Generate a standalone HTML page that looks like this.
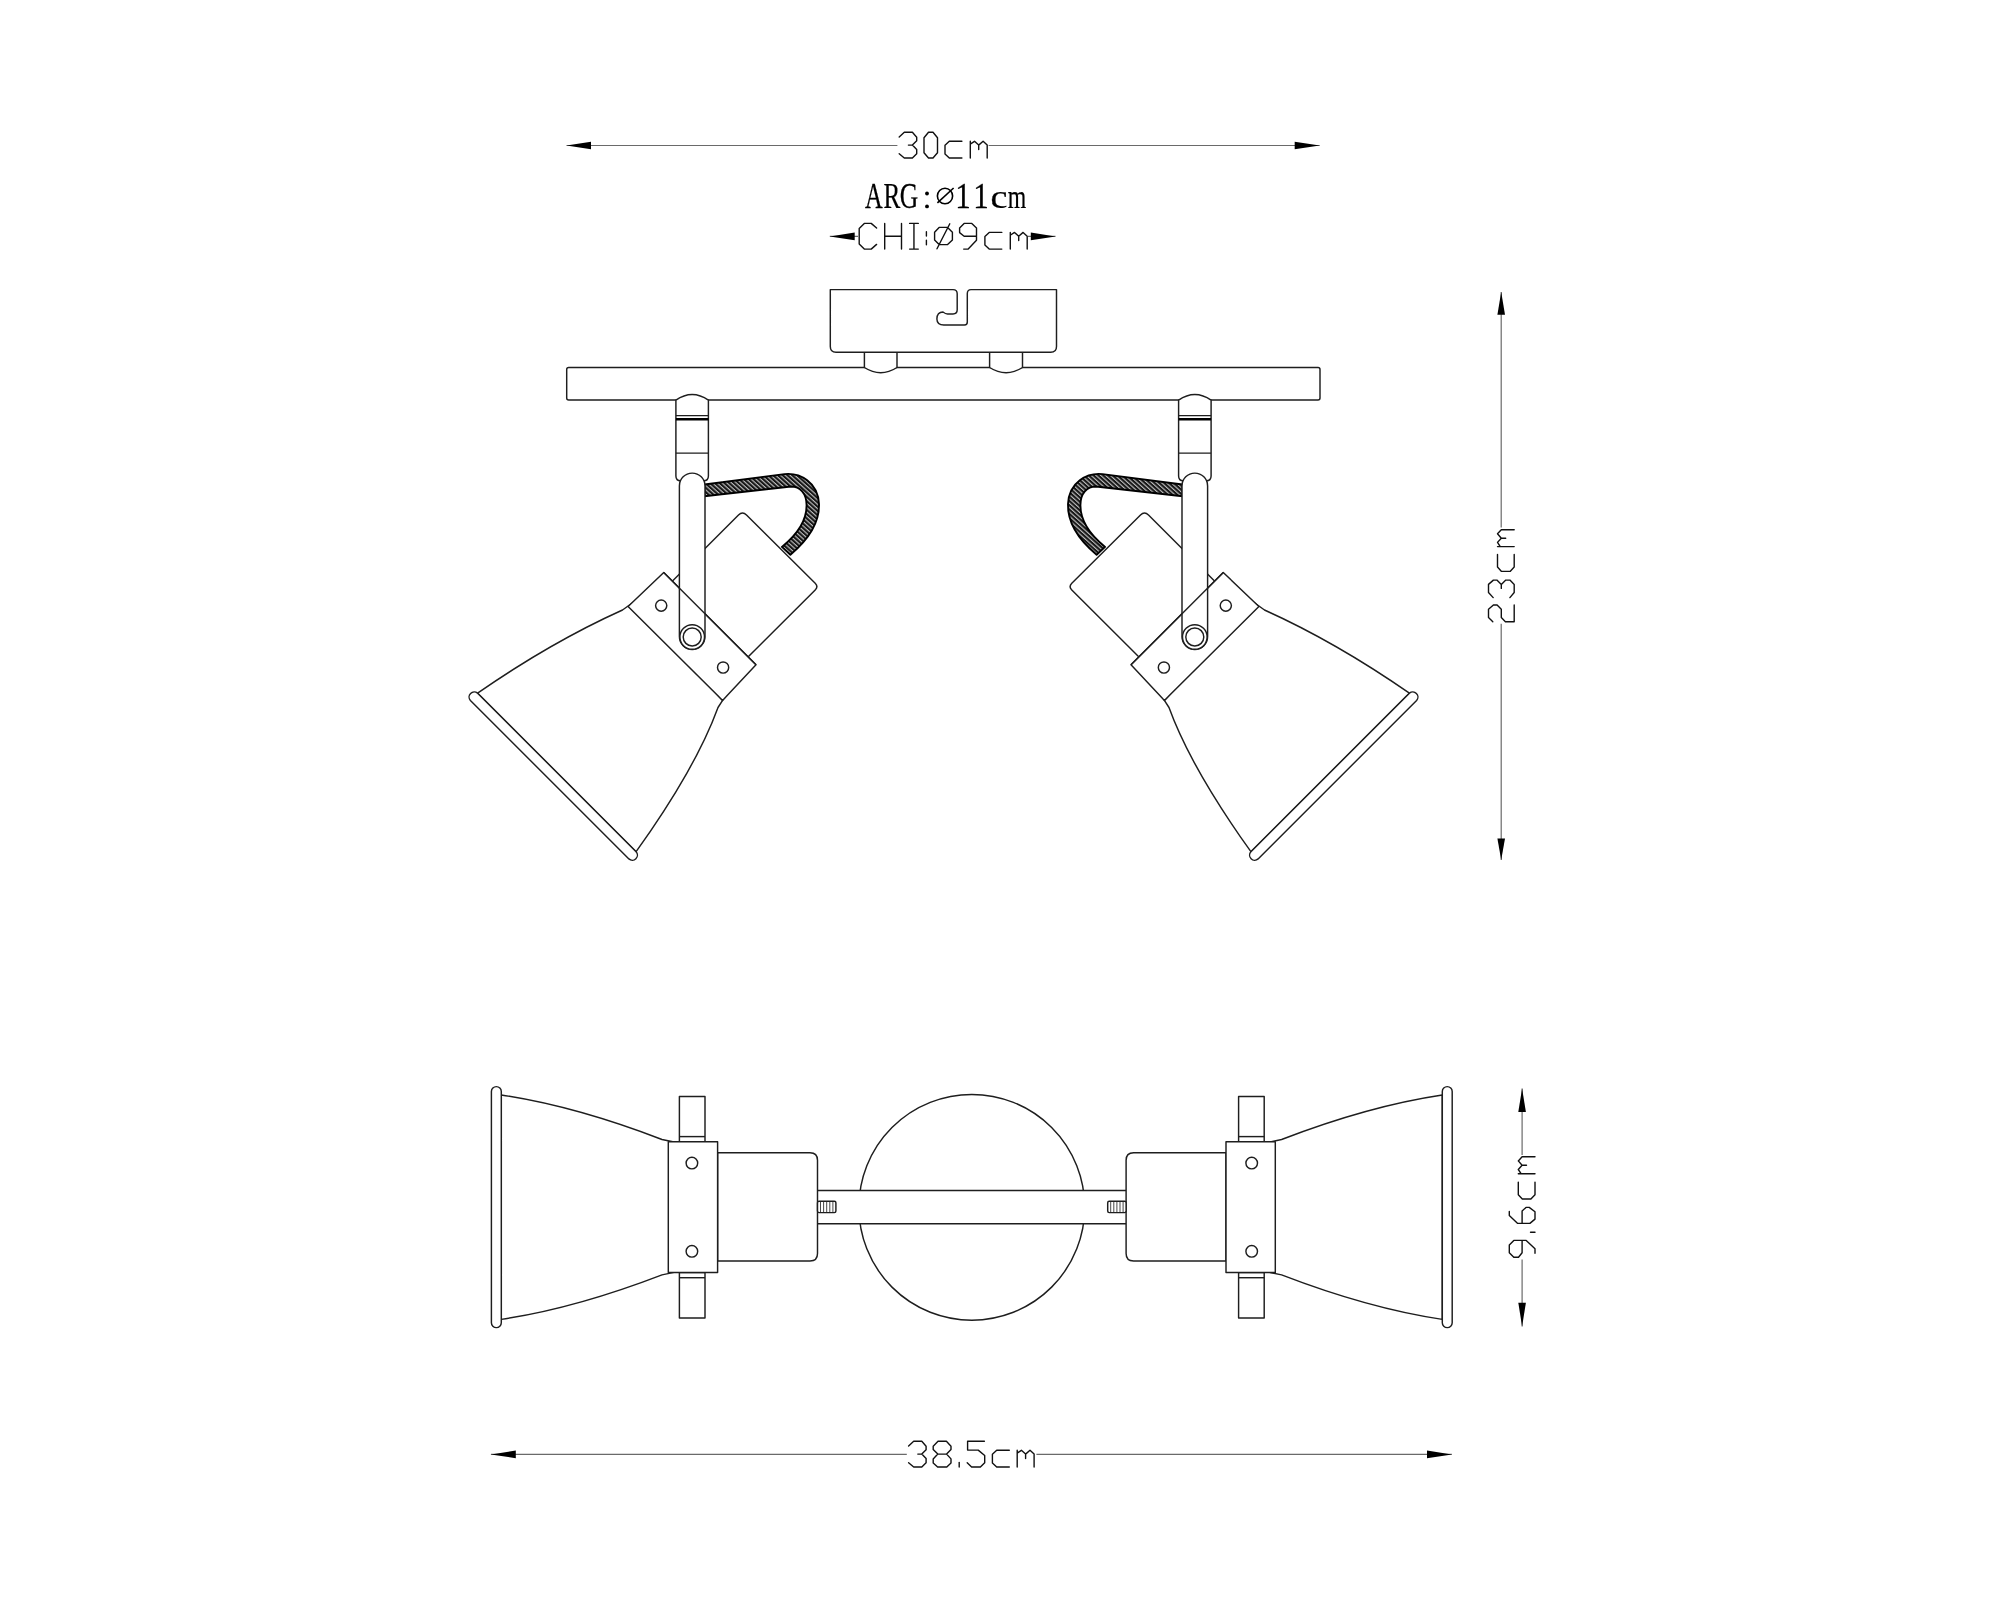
<!DOCTYPE html>
<html><head><meta charset="utf-8"><title>drawing</title>
<style>
html,body{margin:0;padding:0;background:#fff;overflow:hidden}
svg{display:block}
.o{fill:#fff;stroke:#1e1e1e;stroke-width:1.45;stroke-linejoin:round}
.dl{fill:none;stroke:#6a6a6a;stroke-width:1.2}
.th{fill:none;stroke:#333;stroke-width:0.9}
.cab{stroke:#000;stroke-width:1.9;stroke-linejoin:round}
.gl use{}
</style></head><body>
<svg width="2000" height="1600" viewBox="0 0 2000 1600">
<defs>
<pattern id="hatch" patternUnits="userSpaceOnUse" width="3.2" height="3.2" patternTransform="rotate(-48)">
<rect width="3.2" height="3.2" fill="#bcbcbc"/><rect x="0" y="0" width="2.05" height="3.2" fill="#161616"/>
</pattern>
<pattern id="hatch2" patternUnits="userSpaceOnUse" width="3.2" height="3.2" patternTransform="rotate(48)">
<rect width="3.2" height="3.2" fill="#bcbcbc"/><rect x="0" y="0" width="2.05" height="3.2" fill="#161616"/>
</pattern>
<path id="g0" d="M4.5,0 L9,0 L13.5,5.4 L13.5,20.4 L9,25.7 L4.5,25.7 L0,20.4 L0,5.4 Z"/>
<path id="g2" d="M0,4.3 L4.1,0 L12.4,0 L16.7,4.9 L16.7,8.6 L12.4,12.8 L4.1,12.8 L0,16.9 L0,25.7 L16.7,25.7"/>
<path id="g3" d="M0,4.7 L5.1,0 L13.2,0 L17.5,4.9 L17.5,8.4 L13.2,12.8 L9.2,12.8 M13.2,12.8 L17.5,17.3 L17.5,21.4 L13.2,25.7 L5.1,25.7 L0,21.4"/>
<path id="g5" d="M17.2,0 L0.4,0 L0.4,8.8 L11,8.8 L17.5,14.2 L17.5,21.4 L13.2,25.7 L4.4,25.7 L0,21.4"/>
<path id="g6" d="M12,0 L8,0 L0,8.4 L0,20.6 L4.3,25.7 L11.6,25.7 L16,19.9 L16,16.7 L12.4,12.8 L0,12.8"/>
<path id="g8" d="M4.8,0 L13.2,0 L17.8,4.9 L17.8,8.2 L13.4,12.8 L4.6,12.8 L0,8.2 L0,4.9 Z M4.6,12.8 L0,17.6 L0,21.8 L4.4,25.7 L13.6,25.7 L17.8,21.8 L17.8,17.6 L13.4,12.8"/>
<path id="g9" d="M4.1,25.7 L8.6,25.7 L16.9,16.9 L16.9,4.5 L12.2,0 L4.5,0 L0,4.5 L0,9.2 L4.5,12.8 L16.9,12.8"/>
<path id="gc" d="M16.9,9 L4.3,9 L0,13 L0,21.6 L4.3,25.7 L16.9,25.7"/>
<path id="gm" d="M0,25.7 L0,9 M0.3,11.6 L4.2,9 L8.4,12.8 L8.4,17.2 M8.4,12.8 L12.8,9 L16.9,12.8 L16.9,25.7"/>
<path id="gC2" d="M17.4,4.6 L12,0 L5.1,0 L0,5.1 L0,20.6 L5.1,25.7 L12,25.7 L17.4,21"/>
<path id="gH" d="M0,0 L0,25.7 M16.8,0 L16.8,25.7 M0,12.9 L16.8,12.9"/>
<path id="gI" d="M0,0 L8.7,0 M4.35,0 L4.35,25.7 M0,25.7 L8.7,25.7"/>
<path id="gcol" d="M0,8.4 L0,12.6 M0,16.8 L0,21.3"/>
<path id="gcom" d="M0,21.2 L0,25.7"/>
<path id="gdia" d="M4.5,4 L13,4 L17.8,8.8 L17.8,16.6 L13,21.2 L4.5,21.2 L0,16.6 L0,8.8 Z M2.4,25.4 L15.2,0.4"/>
</defs>
<rect width="2000" height="1600" fill="#fff"/>
<g fill="#000" stroke="none">
<path class="dl" d="M566.5,145.5 H897.4 M988.6,145.5 H1319.7"/>
<path d="M566.5,145.5 L591,141.7 L591,149.3 Z"/>
<path d="M1319.7,145.5 L1294.7,141.7 L1294.7,149.3 Z"/>
<path class="dl" d="M829.8,236.4 H858 M1028,236.4 H1055.5"/>
<path d="M829.8,236.4 L854.7,232.6 L854.7,240.20000000000002 Z"/>
<path d="M1055.5,236.4 L1030.8,232.6 L1030.8,240.20000000000002 Z"/>
<path class="dl" d="M1501.2,292 V527.5 M1501.2,623.7 V860"/>
<path d="M1501.2,292 L1497.4,314.7 L1505.0,314.7 Z"/>
<path d="M1501.2,860.1 L1497.4,838.4 L1505.0,838.4 Z"/>
<path class="dl" d="M1522.1,1088.4 V1155 M1522.1,1259.5 V1326.4"/>
<path d="M1522.1,1088.4 L1518.3,1111.9 L1525.8999999999999,1111.9 Z"/>
<path d="M1522.1,1326.4 L1518.3,1302.75 L1525.8999999999999,1302.75 Z"/>
<path class="dl" d="M490.9,1454.4 H906.8 M1036.4,1454.4 H1451.9"/>
<path d="M490.9,1454.4 L515.8,1450.6000000000001 L515.8,1458.2 Z"/>
<path d="M1451.9,1454.4 L1427,1450.6000000000001 L1427,1458.2 Z"/>
</g>
<g fill="none" stroke="#111" stroke-width="1.4" stroke-linejoin="round" stroke-linecap="round">
<use href="#g3" transform="translate(899.2,132.3)"/>
<use href="#g0" transform="translate(924,132.3)"/>
<use href="#gc" transform="translate(945,132.3)"/>
<use href="#gm" transform="translate(970.3,132.3)"/>
<use href="#gC2" transform="translate(859.2,223.4)"/>
<use href="#gH" transform="translate(884.7,223.4)"/>
<use href="#gI" transform="translate(909.6,223.4)"/>
<use href="#gcol" transform="translate(926.4,223.4)"/>
<use href="#gdia" transform="translate(934.6,223.4)"/>
<use href="#g9" transform="translate(959.6,223.4)"/>
<use href="#gc" transform="translate(984.9,223.4)"/>
<use href="#gm" transform="translate(1010.3,223.4)"/>
<use href="#g3" transform="translate(908.6,1441.3)"/>
<use href="#g8" transform="translate(933.2,1441.3)"/>
<use href="#gcom" transform="translate(959.2,1441.3)"/>
<use href="#g5" transform="translate(967.2,1441.3)"/>
<use href="#gc" transform="translate(992.4,1441.3)"/>
<use href="#gm" transform="translate(1017.2,1441.3)"/>
<use href="#g2" transform="matrix(0,-1,1,0,1488.5,621.7)"/>
<use href="#g3" transform="matrix(0,-1,1,0,1488.5,597.6)"/>
<use href="#gc" transform="matrix(0,-1,1,0,1488.5,571.4)"/>
<use href="#gm" transform="matrix(0,-1,1,0,1488.5,546.6)"/>
<use href="#g9" transform="matrix(0,-1,1,0,1509.3,1257.3)"/>
<use href="#gcom" transform="matrix(0,-1,1,0,1509.3,1232.3)"/>
<use href="#g6" transform="matrix(0,-1,1,0,1509.3,1223.4)"/>
<use href="#gc" transform="matrix(0,-1,1,0,1509.3,1199)"/>
<use href="#gm" transform="matrix(0,-1,1,0,1509.3,1173.7)"/>
</g>
<g font-family="'Liberation Serif', serif" font-size="36" text-anchor="middle" fill="#000" stroke="#000" stroke-width="0.25" style="will-change:transform">
<text x="0" y="0" transform="translate(873.8,207.9) scale(0.68,1)">A</text>
<text x="0" y="0" transform="translate(892,207.9) scale(0.7,1)">R</text>
<text x="0" y="0" transform="translate(909,207.9) scale(0.71,1)">G</text>

<text x="0" y="0" transform="translate(963,207.9) scale(0.86,1)">1</text>
<text x="0" y="0" transform="translate(981,207.9) scale(0.86,1)">1</text>
<text x="0" y="0" transform="translate(999,207.9) scale(1.06,0.93)">c</text>
<text x="0" y="0" transform="translate(1017,207.9) scale(0.66,0.93)">m</text>
</g>
<ellipse cx="945" cy="196" rx="7.6" ry="7.8" fill="none" stroke="#000" stroke-width="1.6"/><path d="M937.4,202.8 L953.6,188" stroke="#000" stroke-width="1.6"/>
<circle cx="927" cy="193.5" r="1.9" fill="#000"/><circle cx="927" cy="206.4" r="1.9" fill="#000"/>
<rect class="o" x="566.7" y="367.4" width="753.3" height="32.5" rx="2"/>
<path class="o" d="M864.4,352.3 V367.5 Q880.7,378 897,367.5 V352.3"/>
<path class="o" d="M989.6,352.3 V367.5 Q1006.05,378 1022.5,367.5 V352.3"/>
<path class="o" d="M830.3,289.6 H953 Q957.2,289.6 957.2,293.8 V309.8 Q957.2,314 953,314 H947.5 Q945.5,314 943,312 Q937,312 936.9,319 Q937,325 943.8,325 H964.5 Q967.3,325 967.3,322 V293.6 Q967.3,289.6 971,289.6 H1056.5 V346.5 Q1056.5,352.3 1050.7,352.3 H836 Q830.3,352.3 830.3,346.5 Z"/>
<g><path class="o" d="M668,585.5 L738.5,515 Q742.5,511 746.5,515 L815.2,583.2 Q818.6,586.6 815.2,590 L748,657"/>
<path class="cab" fill="url(#hatch)" d="M704.5,484.5 L784.5,474.1 C800,472.5 818,482 819,504 C819.5,522 808,540 790.4,554.7 L781.9,546.9 C798,534 806.6,520 806.6,505.3 C806.6,493 800,486.5 791,486.5 L704.5,496.2 Z"/>
<path class="o" d="M477.6,693.2 Q550.5,642.5 622.5,610 L633,602.5 L722.6,700.4 L718,707.5 Q696,768 636.1,851.7 Z"/>
<path class="o" d="M477.6,693.2 L636.1,851.7 A5.1,5.1 0 0 1 628.9,858.9 L470.4,700.4 A5.1,5.1 0 0 1 477.6,693.2 Z"/>
<path class="o" d="M663.75,572.5 L756,664.8 L722.6,700.4 L628.1,606.6 Z"/>
<circle class="o" cx="661.2" cy="605.6" r="5.6"/><circle class="o" cx="723.1" cy="667.5" r="5.6"/>
<path class="o" d="M675.9,400.2 Q692.15,388.8 708.4,400.2 V476 Q708.4,480.8 703.6,480.8 L680.7,480.8 Q675.9,480.8 675.9,476 Z"/>
<path class="o" d="M675.9,415.6 H708.4 M675.9,453.1 H708.4"/>
<path d="M675.9,419.2 H708.4" stroke="#000" stroke-width="2.6"/>
<path class="o" d="M679.4,636.6 V485.9 A12.8,12.8 0 0 1 705,485.9 V636.6 A12.8,12.8 0 0 1 679.4,636.6 Z"/>
<circle class="o" cx="692.2" cy="637" r="12.3"/><circle class="o" cx="692.2" cy="637" r="9"/>
<path fill="none" stroke="#1e1e1e" stroke-width="1.5" d="M663.75,572.5 L756,664.8"/></g>
<g transform="matrix(-1,0,0,1,1887,0)"><path class="o" d="M668,585.5 L738.5,515 Q742.5,511 746.5,515 L815.2,583.2 Q818.6,586.6 815.2,590 L748,657"/>
<path class="cab" fill="url(#hatch2)" d="M704.5,484.5 L784.5,474.1 C800,472.5 818,482 819,504 C819.5,522 808,540 790.4,554.7 L781.9,546.9 C798,534 806.6,520 806.6,505.3 C806.6,493 800,486.5 791,486.5 L704.5,496.2 Z"/>
<path class="o" d="M477.6,693.2 Q550.5,642.5 622.5,610 L633,602.5 L722.6,700.4 L718,707.5 Q696,768 636.1,851.7 Z"/>
<path class="o" d="M477.6,693.2 L636.1,851.7 A5.1,5.1 0 0 1 628.9,858.9 L470.4,700.4 A5.1,5.1 0 0 1 477.6,693.2 Z"/>
<path class="o" d="M663.75,572.5 L756,664.8 L722.6,700.4 L628.1,606.6 Z"/>
<circle class="o" cx="661.2" cy="605.6" r="5.6"/><circle class="o" cx="723.1" cy="667.5" r="5.6"/>
<path class="o" d="M675.9,400.2 Q692.15,388.8 708.4,400.2 V476 Q708.4,480.8 703.6,480.8 L680.7,480.8 Q675.9,480.8 675.9,476 Z"/>
<path class="o" d="M675.9,415.6 H708.4 M675.9,453.1 H708.4"/>
<path d="M675.9,419.2 H708.4" stroke="#000" stroke-width="2.6"/>
<path class="o" d="M679.4,636.6 V485.9 A12.8,12.8 0 0 1 705,485.9 V636.6 A12.8,12.8 0 0 1 679.4,636.6 Z"/>
<circle class="o" cx="692.2" cy="637" r="12.3"/><circle class="o" cx="692.2" cy="637" r="9"/>
<path fill="none" stroke="#1e1e1e" stroke-width="1.5" d="M663.75,572.5 L756,664.8"/></g>
<circle class="o" cx="971.8" cy="1207.3" r="112.9"/>
<rect x="817.5" y="1190.4" width="308.6" height="33.25" fill="#fff"/>
<path class="o" d="M817.5,1190.4 H1126.1 M817.5,1223.65 H1126.1"/>
<g><path class="o" d="M501.3,1095 Q575,1106 662,1139.5 L674,1142 V1272.4 L662,1274.9 Q575,1308.4 501.3,1319.4 Z"/>
<rect class="o" x="491.4" y="1086.6" width="9.9" height="241" rx="4.95"/>
<rect class="o" x="679.4" y="1096.4" width="25.6" height="45.3"/>
<path class="o" d="M679.4,1136.6 H705"/>
<rect class="o" x="679.4" y="1272.6" width="25.6" height="45.4"/>
<path class="o" d="M679.4,1277.7 H705"/>
<path class="o" d="M717.6,1152.8 H810 Q817.5,1152.8 817.5,1160.3 V1253.4 Q817.5,1260.9 810,1260.9 H717.6 Z"/>
<rect class="o" x="668.3" y="1141.7" width="49.3" height="130.8"/>
<circle class="o" cx="691.9" cy="1163.1" r="5.8"/><circle class="o" cx="691.9" cy="1251.3" r="5.8"/>
<rect class="o" x="817.5" y="1201.3" width="18.4" height="11.3" rx="1.5"/>
<path class="th" d="M820.5,1201.8 V1212.1 M823.6,1201.8 V1212.1 M826.7,1201.8 V1212.1 M829.8,1201.8 V1212.1 M832.9,1201.8 V1212.1"/></g>
<g transform="matrix(-1,0,0,1,1943.6,0)"><path class="o" d="M501.3,1095 Q575,1106 662,1139.5 L674,1142 V1272.4 L662,1274.9 Q575,1308.4 501.3,1319.4 Z"/>
<rect class="o" x="491.4" y="1086.6" width="9.9" height="241" rx="4.95"/>
<rect class="o" x="679.4" y="1096.4" width="25.6" height="45.3"/>
<path class="o" d="M679.4,1136.6 H705"/>
<rect class="o" x="679.4" y="1272.6" width="25.6" height="45.4"/>
<path class="o" d="M679.4,1277.7 H705"/>
<path class="o" d="M717.6,1152.8 H810 Q817.5,1152.8 817.5,1160.3 V1253.4 Q817.5,1260.9 810,1260.9 H717.6 Z"/>
<rect class="o" x="668.3" y="1141.7" width="49.3" height="130.8"/>
<circle class="o" cx="691.9" cy="1163.1" r="5.8"/><circle class="o" cx="691.9" cy="1251.3" r="5.8"/>
<rect class="o" x="817.5" y="1201.3" width="18.4" height="11.3" rx="1.5"/>
<path class="th" d="M820.5,1201.8 V1212.1 M823.6,1201.8 V1212.1 M826.7,1201.8 V1212.1 M829.8,1201.8 V1212.1 M832.9,1201.8 V1212.1"/></g>
</svg>
</body></html>
